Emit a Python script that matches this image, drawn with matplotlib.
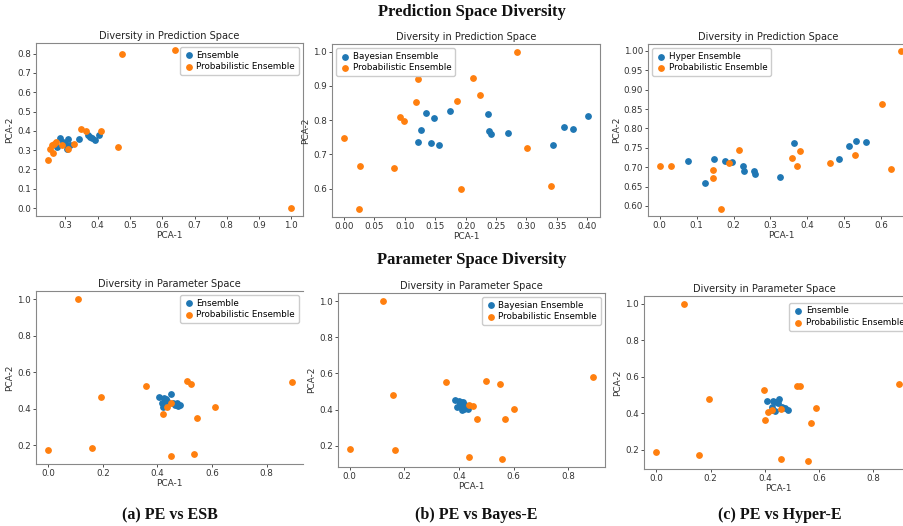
import matplotlib
matplotlib.use("Agg")
import matplotlib.pyplot as plt

W, H = 904, 526
BLUE = "#1f77b4"
ORANGE = "#ff7f0e"

# ---- (a) PE vs ESB ----
a_pred_ens_x = [0.275, 0.284, 0.292, 0.300, 0.309, 0.304, 0.314, 0.343, 0.370, 0.377, 0.384, 0.391, 0.404]
a_pred_ens_y = [0.318, 0.361, 0.340, 0.330, 0.357, 0.304, 0.326, 0.357, 0.378, 0.370, 0.361, 0.352, 0.378]
a_pred_pe_x = [0.247, 0.253, 0.260, 0.263, 0.266, 0.272, 0.289, 0.309, 0.327, 0.347, 0.364, 0.410, 0.464, 0.474, 0.639, 1.000]
a_pred_pe_y = [0.249, 0.306, 0.326, 0.287, 0.330, 0.340, 0.326, 0.307, 0.332, 0.408, 0.402, 0.399, 0.316, 0.796, 0.820, 0.000]

a_par_ens_x = [0.404, 0.415, 0.421, 0.424, 0.434, 0.440, 0.449, 0.456, 0.464, 0.470, 0.476, 0.482, 0.430]
a_par_ens_y = [0.464, 0.433, 0.411, 0.459, 0.444, 0.433, 0.477, 0.430, 0.422, 0.433, 0.415, 0.418, 0.452]
a_par_pe_x = [0.000, 0.109, 0.161, 0.193, 0.357, 0.421, 0.436, 0.448, 0.448, 0.509, 0.521, 0.535, 0.546, 0.611, 0.892]
a_par_pe_y = [0.171, 1.000, 0.184, 0.461, 0.524, 0.368, 0.411, 0.430, 0.138, 0.552, 0.533, 0.151, 0.348, 0.411, 0.543]

# ---- (b) PE vs Bayes-E ----
b_pred_ens_x = [0.122, 0.126, 0.134, 0.143, 0.148, 0.156, 0.175, 0.236, 0.238, 0.241, 0.269, 0.344, 0.362, 0.377, 0.401]
b_pred_ens_y = [0.737, 0.772, 0.820, 0.732, 0.807, 0.726, 0.825, 0.819, 0.768, 0.760, 0.762, 0.728, 0.779, 0.775, 0.812]
b_pred_pe_x = [0.000, 0.025, 0.026, 0.082, 0.092, 0.099, 0.121, 0.118, 0.186, 0.192, 0.212, 0.223, 0.285, 0.301, 0.341]
b_pred_pe_y = [0.749, 0.539, 0.667, 0.659, 0.810, 0.798, 0.921, 0.854, 0.856, 0.598, 0.923, 0.874, 1.000, 0.718, 0.608]

b_par_ens_x = [0.386, 0.391, 0.401, 0.405, 0.413, 0.415, 0.421, 0.427, 0.412, 0.419, 0.434, 0.407]
b_par_ens_y = [0.452, 0.416, 0.449, 0.431, 0.441, 0.416, 0.425, 0.408, 0.397, 0.405, 0.403, 0.443]
b_par_pe_x = [0.000, 0.120, 0.159, 0.167, 0.351, 0.437, 0.452, 0.467, 0.435, 0.498, 0.550, 0.556, 0.568, 0.602, 0.889]
b_par_pe_y = [0.180, 1.000, 0.480, 0.176, 0.552, 0.423, 0.419, 0.347, 0.139, 0.559, 0.539, 0.126, 0.349, 0.401, 0.578]

# ---- (c) PE vs Hyper-E ----
c_pred_ens_x = [0.077, 0.123, 0.148, 0.178, 0.196, 0.226, 0.227, 0.255, 0.259, 0.325, 0.364, 0.486, 0.512, 0.532, 0.560]
c_pred_ens_y = [0.716, 0.660, 0.722, 0.716, 0.714, 0.704, 0.691, 0.689, 0.683, 0.675, 0.763, 0.722, 0.755, 0.768, 0.766]
c_pred_pe_x = [0.000, 0.032, 0.144, 0.144, 0.165, 0.187, 0.215, 0.359, 0.373, 0.381, 0.462, 0.530, 0.603, 0.627, 0.654]
c_pred_pe_y = [0.702, 0.702, 0.694, 0.671, 0.592, 0.712, 0.745, 0.725, 0.702, 0.741, 0.710, 0.732, 0.862, 0.695, 1.000]

c_par_ens_x = [0.409, 0.428, 0.431, 0.447, 0.453, 0.425, 0.437, 0.462, 0.474, 0.486, 0.440]
c_par_ens_y = [0.470, 0.433, 0.468, 0.455, 0.479, 0.419, 0.411, 0.437, 0.431, 0.419, 0.462]
c_par_pe_x = [0.000, 0.102, 0.158, 0.193, 0.396, 0.402, 0.412, 0.427, 0.459, 0.459, 0.517, 0.529, 0.558, 0.570, 0.588, 0.896]
c_par_pe_y = [0.187, 1.000, 0.171, 0.479, 0.526, 0.366, 0.410, 0.419, 0.422, 0.149, 0.548, 0.548, 0.142, 0.348, 0.431, 0.559]


def box(l, t, r, b):
    return [l / W, 1 - b / H, (r - l) / W, (b - t) / H]


def panel(fig, rect, title, ens_label, ex, ey, px_, py_, xlim, ylim, legend_kw, hide_right=False):
    ax = fig.add_axes(box(*rect))
    ax.scatter(ex, ey, s=15, color=BLUE, label=ens_label, zorder=3)
    ax.scatter(px_, py_, s=15, color=ORANGE, label="Probabilistic Ensemble", zorder=3)
    ax.set_xlim(*xlim)
    ax.set_ylim(*ylim)
    ax.set_title(title, fontsize=7, pad=3, color="#222222")
    ax.set_xlabel("PCA-1", fontsize=6.5, labelpad=1, color="#333333")
    ax.set_ylabel("PCA-2", fontsize=6.5, labelpad=2, color="#333333")
    ax.tick_params(labelsize=6.3, length=2, width=0.6, pad=1.5, colors="#333333")
    for sp in ax.spines.values():
        sp.set_color("#888888")
        sp.set_linewidth(0.8)
    if hide_right:
        ax.spines["right"].set_visible(False)
    ax.legend(fontsize=6.3, handletextpad=0.3, borderpad=0.4, labelspacing=0.3,
              handlelength=1.2, framealpha=1, edgecolor="#cccccc", **legend_kw)
    return ax


fig = plt.figure(figsize=(W / 100, H / 100), dpi=100)

panel(fig, (36, 42.7, 303, 216), "Diversity in Prediction Space", "Ensemble",
      a_pred_ens_x, a_pred_ens_y, a_pred_pe_x, a_pred_pe_y,
      (0.209, 1.036), (-0.041, 0.857), dict(loc="upper right"))
panel(fig, (332, 44, 600, 217), "Diversity in Prediction Space", "Bayesian Ensemble",
      b_pred_ens_x, b_pred_ens_y, b_pred_pe_x, b_pred_pe_y,
      (-0.0198, 0.421), (0.517, 1.022), dict(loc="upper left"))
ax = panel(fig, (648, 44, 914.5, 216), "Diversity in Prediction Space", "Hyper Ensemble",
           c_pred_ens_x, c_pred_ens_y, c_pred_pe_x, c_pred_pe_y,
           (-0.0316, 0.69), (0.574, 1.018), dict(loc="upper left"))
ax.set_yticks([0.60, 0.65, 0.70, 0.75, 0.80, 0.85, 0.90, 0.95, 1.00])
ax.title.set_position((0.45, 1.0))

panel(fig, (36, 290.7, 303, 464), "Diversity in Parameter Space", "Ensemble",
      a_par_ens_x, a_par_ens_y, a_par_pe_x, a_par_pe_y,
      (-0.045, 0.933), (0.096, 1.046), dict(loc="upper right"), hide_right=True)
panel(fig, (338, 292.7, 605, 466.7), "Diversity in Parameter Space", "Bayesian Ensemble",
      b_par_ens_x, b_par_ens_y, b_par_pe_x, b_par_pe_y,
      (-0.043, 0.934), (0.084, 1.046), dict(loc="upper right"))
ax = panel(fig, (644, 296, 912.6, 469), "Diversity in Parameter Space", "Ensemble",
           c_par_ens_x, c_par_ens_y, c_par_pe_x, c_par_pe_y,
           (-0.0455, 0.945), (0.096, 1.042), dict(loc="upper left", bbox_to_anchor=(0.525, 0.985)))
ax.title.set_position((0.45, 1.0))

serif = dict(family="Liberation Serif", weight="bold", ha="center", va="center", color="#111111")
fig.text(472 / W, 1 - 12 / H, "Prediction Space Diversity", fontsize=12, **serif)
fig.text(472 / W, 1 - 260 / H, "Parameter Space Diversity", fontsize=12, **serif)
fig.text(170 / W, 1 - 515 / H, "(a) PE vs ESB", fontsize=11.5, **serif)
fig.text(476 / W, 1 - 515 / H, "(b) PE vs Bayes-E", fontsize=11.5, **serif)
fig.text(780 / W, 1 - 515 / H, "(c) PE vs Hyper-E", fontsize=11.5, **serif)

fig.savefig("out.png", dpi=100)
